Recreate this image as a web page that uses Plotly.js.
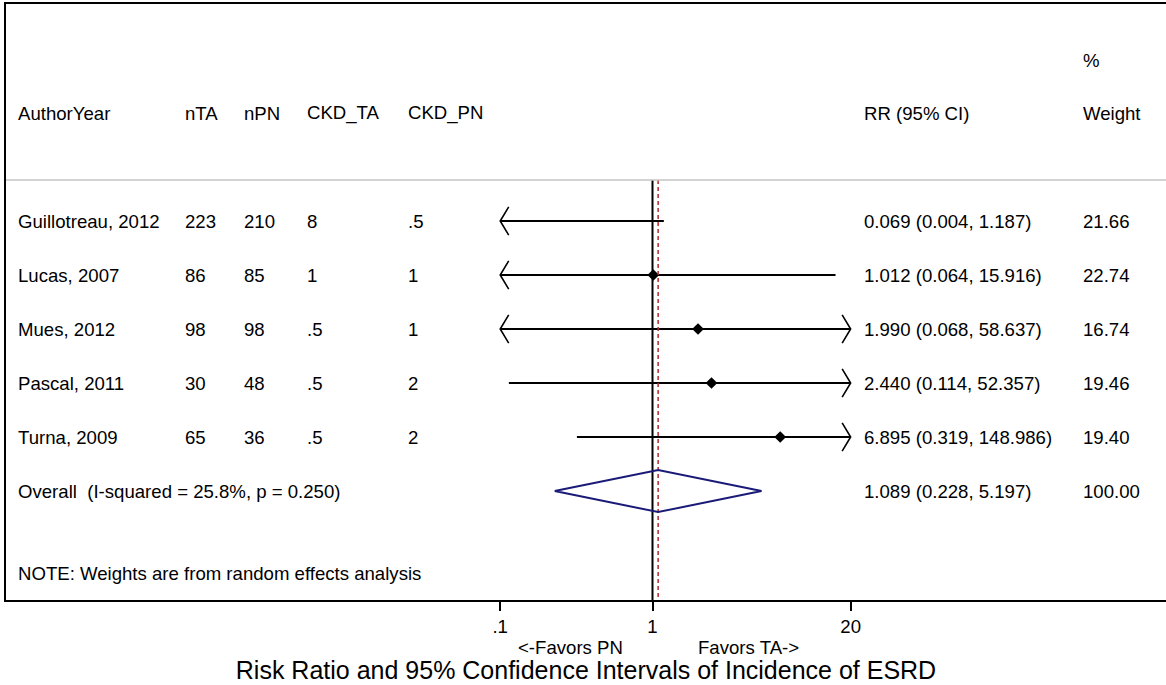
<!DOCTYPE html>
<html><head><meta charset="utf-8">
<script src="https://cdn.plot.ly/plotly-3.0.1.min.js"></script>
<style>html,body{margin:0;padding:0;background:#fff}#chart{width:1166px;height:685px}</style>
</head><body><div id="chart"></div>
<script>
// ---- data ----
const studies = ["Guillotreau, 2012", "Lucas, 2007", "Mues, 2012", "Pascal, 2011", "Turna, 2009"];
const nTA = [223, 86, 98, 30, 65];
const nPN = [210, 85, 98, 48, 36];
const ckdTA = ["8", "1", ".5", ".5", ".5"];
const ckdPN = [".5", "1", "1", "2", "2"];
const rr = [0.069, 1.012, 1.990, 2.440, 6.895];
const rrLo = [0.004, 0.064, 0.068, 0.114, 0.319];
const rrHi = [1.187, 15.916, 58.637, 52.357, 148.986];
const weight = [21.66, 22.74, 16.74, 19.46, 19.40];
const overallRR = [1.089];
const overallLo = [0.228];
const overallHi = [5.197];
const overallWeight = [100.00];
const overallLabel = "Overall\u00a0\u00a0(I-squared = 25.8%, p = 0.250)";
const noteText = "NOTE: Weights are from random effects analysis";
const headers = ["AuthorYear", "nTA", "nPN", "CKD_TA", "CKD_PN"];
const tickVals = [0.1, 1, 20];
const tickText = [".1", "1", "20"];
const clipLow = 0.1, clipHigh = 20;

// ---- layout helpers ----
const FONT = "Liberation Sans, Arial, Helvetica, sans-serif";
const FS = 18.6;
const W = 1166, L = 6;
const px = p => (p - L) / (W - L);        // pixel -> paper x
const colX = [16, 183, 242, 305, 406].map(px);
const rrX = px(862), wX = px(1081);
const n = studies.length;
const rowY = studies.map((s, i) => n - i + 1);   // 6..2
const oY = 1;
const ARW = Math.pow(10, 8.5 / 152.3);  // arrow head depth (log factor)
const AH = 0.26, DH = 0.39;

const traces = [];
const blackLine = {color: "#000", width: 2};
studies.forEach((s, i) => {
  const y = rowY[i];
  const a = Math.max(rrLo[i], clipLow), b = Math.min(rrHi[i], clipHigh);
  traces.push({type: "scatter", mode: "lines", x: [a, b], y: [y, y], line: blackLine});
  if (rrLo[i] < clipLow) traces.push({type: "scatter", mode: "lines", x: [a * ARW, a, a * ARW], y: [y + AH, y, y - AH], line: {color: "#000", width: 1.6}});
  if (rrHi[i] > clipHigh) traces.push({type: "scatter", mode: "lines", x: [b / ARW, b, b / ARW], y: [y + AH, y, y - AH], line: {color: "#000", width: 1.6}});
});
// point estimates
const ptX = [], ptY = [];
rr.forEach((v, i) => { if (v >= clipLow && v <= clipHigh) { ptX.push(v); ptY.push(rowY[i]); } });
traces.push({type: "scatter", mode: "markers", x: ptX, y: ptY, marker: {symbol: "diamond", size: 9, color: "#000"}});
// reference lines
const yTopRef = 6.76, yBot = -1.0185;
traces.push({type: "scatter", mode: "lines", x: [1, 1], y: [yTopRef, yBot], line: {color: "#000", width: 2}});
traces.push({type: "scatter", mode: "lines", x: [overallRR[0], overallRR[0]], y: [yTopRef, yBot], line: {color: "#b22a2a", width: 1.5, dash: "4px,3px"}});
// overall diamond
traces.push({type: "scatter", mode: "lines",
  x: [overallLo[0], overallRR[0], overallHi[0], overallRR[0], overallLo[0]],
  y: [oY, oY + DH, oY, oY - DH, oY], line: {color: "#1a1a78", width: 2}});

const ann = [];
const txt = (x, y, t, opts) => Object.assign({xref: "paper", yref: "y", x: x, y: y, text: t, showarrow: false,
  xanchor: "left", yanchor: "middle", font: {family: FONT, size: FS, color: "#000"}}, opts || {});
headers.forEach((h, j) => ann.push(txt(colX[j], 8.0, h)));
ann.push(txt(rrX, 8.0, "RR (95% CI)"));
ann.push(txt(wX, 8.98, "%"));
ann.push(txt(wX, 8.0, "Weight"));
studies.forEach((s, i) => {
  const y = rowY[i];
  [s, String(nTA[i]), String(nPN[i]), ckdTA[i], ckdPN[i]].forEach((t, j) => ann.push(txt(colX[j], y, t)));
  ann.push(txt(rrX, y, rr[i].toFixed(3) + " (" + rrLo[i].toFixed(3) + ", " + rrHi[i].toFixed(3) + ")"));
  ann.push(txt(wX, y, weight[i].toFixed(2)));
});
ann.push(txt(colX[0], oY, overallLabel));
ann.push(txt(rrX, oY, overallRR[0].toFixed(3) + " (" + overallLo[0].toFixed(3) + ", " + overallHi[0].toFixed(3) + ")"));
ann.push(txt(wX, oY, overallWeight[0].toFixed(2)));
ann.push(txt(colX[0], -0.52, noteText));
ann.push(txt(px(570), -0.0805, "&lt;-Favors PN", {yref: "paper", xanchor: "center"}));
ann.push(txt(px(748), -0.0805, "Favors TA-&gt;", {yref: "paper", xanchor: "center"}));

const pxPerDec = 152.3, oneAt = 652.5;
const layout = {
  width: 1166, height: 685,
  margin: {l: L, r: 0, t: 4, b: 85},
  paper_bgcolor: "#fff", plot_bgcolor: "#fff",
  showlegend: false,
  title: {text: "Risk Ratio and 95% Confidence Intervals of Incidence of ESRD",
    font: {family: FONT, size: 25, color: "#000"}, x: 0.5, xref: "paper", y: 0.022, yref: "container", yanchor: "middle"},
  xaxis: {type: "log", range: [(L - oneAt) / pxPerDec, (W - oneAt) / pxPerDec],
    tickvals: tickVals, ticktext: tickText, ticks: "outside", ticklen: 9, tickwidth: 2, tickcolor: "#000",
    showline: true, linecolor: "#000", linewidth: 2, mirror: true, showgrid: false, zeroline: false,
    tickfont: {family: FONT, size: FS, color: "#000"}, fixedrange: true},
  yaxis: {range: [yBot, 10.0185], showline: true, linecolor: "#000", linewidth: 2, mirror: false,
    showticklabels: false, ticks: "", showgrid: false, zeroline: false, fixedrange: true},
  shapes: [{type: "line", xref: "paper", yref: "y", x0: 0, x1: 1, y0: yTopRef, y1: yTopRef,
    line: {color: "#c4c4c4", width: 1.5}}],
  annotations: ann
};
Plotly.newPlot("chart", traces, layout, {staticPlot: true, displayModeBar: false});
</script></body></html>
